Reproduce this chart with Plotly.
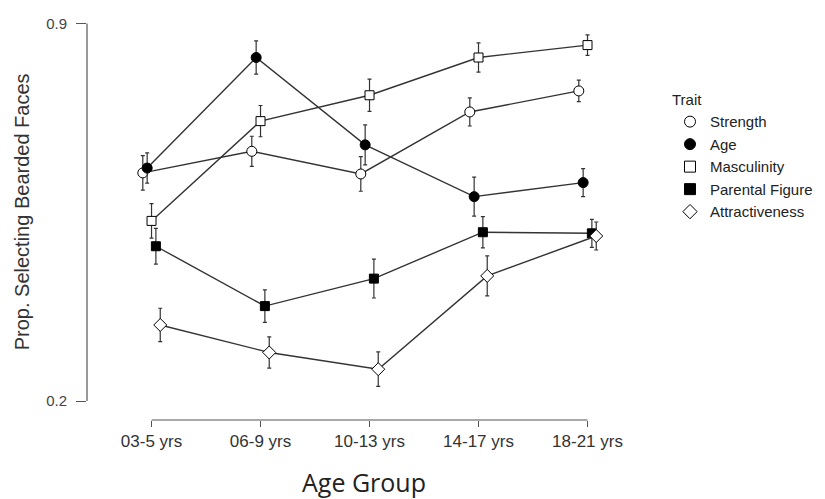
import plotly.graph_objects as go

age_groups = ["03-5 yrs", "06-9 yrs", "10-13 yrs", "14-17 yrs", "18-21 yrs"]
traits = ["Strength", "Age", "Masculinity", "Parental Figure", "Attractiveness"]

strength = [0.623, 0.663, 0.621, 0.736, 0.775]
strength_se = [0.032, 0.028, 0.032, 0.026, 0.020]
age = [0.632, 0.837, 0.675, 0.579, 0.605]
age_se = [0.028, 0.031, 0.037, 0.036, 0.026]
masculinity = [0.534, 0.719, 0.767, 0.837, 0.860]
masculinity_se = [0.032, 0.029, 0.030, 0.027, 0.019]
parental = [0.487, 0.376, 0.427, 0.513, 0.511]
parental_se = [0.033, 0.030, 0.036, 0.029, 0.026]
attractiveness = [0.341, 0.290, 0.259, 0.432, 0.506]
attractiveness_se = [0.031, 0.029, 0.032, 0.037, 0.026]

values = [strength, age, masculinity, parental, attractiveness]
errors = [strength_se, age_se, masculinity_se, parental_se, attractiveness_se]
fills = ["white", "black", "white", "black", "white"]
base_symbols = ["circle", "circle", "square", "square", "diamond"]
dodge = [-0.08, -0.04, 0.0, 0.04, 0.08]

LINE = "#333333"
AX = "#555555"
FONT = "Liberation Sans, Arial, sans-serif"

fig = go.Figure()
xidx = list(range(len(age_groups)))
for name, vals, err, sym, fill, dd in zip(traits, values, errors, base_symbols, fills, dodge):
    fig.add_trace(go.Scatter(
        x=[i + dd for i in xidx], y=vals, mode="lines+markers", showlegend=False,
        name=name,
        line=dict(color=LINE, width=1.4),
        marker=dict(symbol=sym, size=9 if sym == "square" else 10,
                    color=fill, line=dict(color="black", width=1)),
        error_y=dict(type="data", array=err, visible=True, color=LINE, thickness=1.2, width=2),
    ))
for name, sym, fill in zip(traits, base_symbols, fills):
    fig.add_trace(go.Scatter(
        x=[None], y=[None], mode="markers", name=name, showlegend=True,
        marker=dict(symbol=sym, size=11, color=fill, line=dict(color="black", width=1)),
    ))

# range-frame axis lines
fig.add_shape(type="line", xref="paper", yref="y", x0=0, x1=0, y0=0.2, y1=0.9,
              line=dict(color=AX, width=1.2))
fig.add_shape(type="line", xref="x", yref="paper", x0=0, x1=4, y0=0, y1=0,
              line=dict(color=AX, width=1.2))

fig.add_annotation(text="Prop. Selecting Bearded Faces", xref="paper", yref="y",
                   x=0, y=0.55, xshift=-65, xanchor="center", yanchor="middle",
                   textangle=-90, showarrow=False,
                   font=dict(family=FONT, size=20, color="#333333"))
fig.add_annotation(text="Age Group", xref="paper", yref="paper",
                   x=0.531, y=0, yshift=-62, showarrow=False, xanchor="center", yanchor="middle",
                   font=dict(family="Open Sans, sans-serif", size=25, color="#222222"))

fig.update_layout(
    width=817, height=491,
    margin=dict(l=79, r=205, t=7, b=79),
    paper_bgcolor="white", plot_bgcolor="white",
    font=dict(family=FONT, color="#333333"),
    xaxis=dict(range=[-0.592, 4.188], tickvals=xidx, ticktext=age_groups,
               showgrid=False, zeroline=False, showline=False,
               ticks="outside", ticklen=6, tickcolor=AX, tickwidth=1.2,
               tickfont=dict(family=FONT, size=17, color="#333333")),
    yaxis=dict(range=[0.1648, 0.9158], tickvals=[0.2, 0.9], ticktext=["0.2", "0.9"],
               showgrid=False, zeroline=False, showline=False,
               ticks="outside", ticklen=10, tickcolor=AX, tickwidth=1.2,
               ticklabelstandoff=6,
               tickfont=dict(family=FONT, size=15, color="#444444")),
    legend=dict(x=1.119, y=0.825, xanchor="left", yanchor="top",
                title=dict(text="Trait", font=dict(family=FONT, size=15, color="#222222")),
                font=dict(family=FONT, size=15, color="#222222"),
                bgcolor="rgba(0,0,0,0)"),
)

fig.write_html("out.html")
